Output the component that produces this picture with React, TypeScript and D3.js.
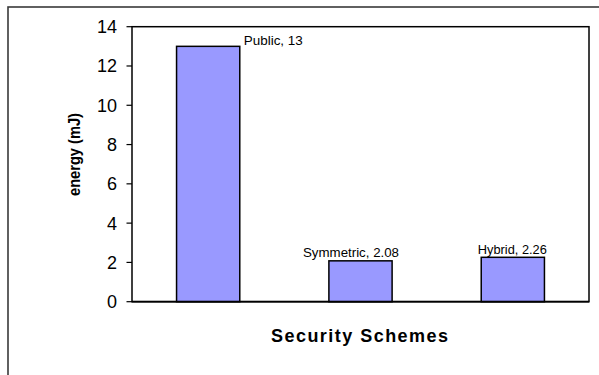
import React from "react";
import * as d3 from "d3";

const categories = ["Public", "Symmetric", "Hybrid"];
const values = [13, 2.08, 2.26];
const yTicks = [0, 2, 4, 6, 8, 10, 12, 14];
const yTitle = "energy (mJ)";
const xTitle = "Security Schemes";

// label placement (style only)
const labelPlacement = [
  { anchor: "start", dx: 4, dy: -1, len: 59 },
  { anchor: "middle", dx: -9.5, dy: -3.5, len: 96 },
  { anchor: "middle", dx: -0.5, dy: -3, len: 69 },
];

const W = 599;
const H = 375;
const plot = { left: 132, right: 589, top: 26.7, bottom: 301.7 };

export default function App() {
  const x = d3
    .scaleBand<string>()
    .domain(categories)
    .range([plot.left, plot.right])
    .paddingInner(0.585)
    .paddingOuter(0.2925);
  const y = d3.scaleLinear().domain([0, 14]).range([plot.bottom, plot.top]);
  const font = "Arial, 'Liberation Sans', sans-serif";

  return (
    <svg
      width={W}
      height={H}
      style={{ position: "absolute", left: 0, top: 0, display: "block", background: "#fff" }}
      fontFamily={font}
    >
      <rect x={0} y={0} width={W} height={H} fill="#fff" />
      {/* outer chart frame */}
      <rect x={8} y={7} width={W + 20} height={H + 20} fill="none" stroke="#3a3a3a" strokeWidth={1.6} />
      {/* plot area */}
      <rect
        x={plot.left}
        y={plot.top}
        width={plot.right - plot.left}
        height={plot.bottom - plot.top}
        fill="#fff"
        stroke="#000"
        strokeWidth={1.5}
      />
      {/* bars */}
      {categories.map((c, i) => (
        <rect
          key={c}
          x={x(c)!}
          y={y(values[i])}
          width={x.bandwidth()}
          height={y(0) - y(values[i])}
          fill="#9999FF"
          stroke="#000"
          strokeWidth={1.5}
        />
      ))}
      {/* x axis line */}
      <line x1={plot.left} x2={plot.right} y1={y(0)} y2={y(0)} stroke="#000" strokeWidth={1.7} />
      {/* y ticks */}
      {yTicks.map((t) => (
        <g key={t}>
          <line x1={plot.left - 5.5} x2={plot.left} y1={y(t)} y2={y(t)} stroke="#000" strokeWidth={1.2} />
          <text x={117} y={y(t)} dy="0.36em" textAnchor="end" fontSize={18} fill="#000">
            {t}
          </text>
        </g>
      ))}
      {/* data labels */}
      {categories.map((c, i) => {
        const p = labelPlacement[i];
        const bx =
          p.anchor === "start" ? x(c)! + x.bandwidth() + p.dx : x(c)! + x.bandwidth() / 2 + p.dx;
        return (
          <text
            key={"l" + c}
            x={bx}
            y={y(values[i]) + p.dy}
            textAnchor={p.anchor as any}
            fontSize={12.5}
            fill="#000"
            textLength={p.len}
            lengthAdjust="spacingAndGlyphs"
          >
            {`${c}, ${values[i]}`}
          </text>
        );
      })}
      {/* axis titles */}
      <text
        transform={`translate(80,154.5) rotate(-90)`}
        textAnchor="middle"
        fontSize={16.5}
        fontWeight="bold"
        fill="#000"
        textLength={83}
        lengthAdjust="spacingAndGlyphs"
      >
        {yTitle}
      </text>
      <text
        x={359.5}
        y={342}
        textAnchor="middle"
        fontSize={18}
        fontWeight="bold"
        fill="#000"
        textLength={177}
        lengthAdjust="spacing"
      >
        {xTitle}
      </text>
    </svg>
  );
}
